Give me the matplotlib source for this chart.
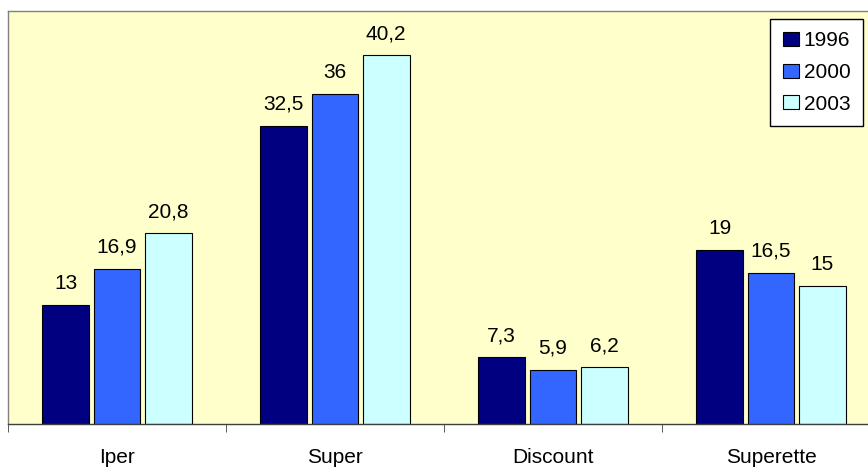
import numpy as np
import matplotlib
matplotlib.use("Agg")
import matplotlib.pyplot as plt
from matplotlib.patches import Rectangle

categories = ["Iper", "Super", "Discount", "Superette"]
years = ["1996", "2000", "2003"]
v1996 = [13, 32.5, 7.3, 19]
v2000 = [16.9, 36, 5.9, 16.5]
v2003 = [20.8, 40.2, 6.2, 15]

colors = ["#000080", "#3366FF", "#CCFFFF"]

plt.rcParams['font.family'] = ['Liberation Sans', 'DejaVu Sans']

fig = plt.figure(figsize=(8.68, 4.70), dpi=100)
ax = fig.add_axes([8 / 868, 46 / 470, 872 / 868, 413 / 470])
ax.set_facecolor("#FFFFCC")

x = np.arange(len(categories))
width = 0.215
step = 0.235

for i, (vals, col) in enumerate(zip([v1996, v2000, v2003], colors)):
    pos = x + (i - 1) * step
    ax.bar(pos, vals, width=width, color=col, edgecolor="black", linewidth=0.8, zorder=2)
    for px, v in zip(pos, vals):
        lbl = f"{v:g}".replace(".", ",")
        ax.text(px, v + 1.3, lbl, ha="center", va="bottom", fontsize=15)

ax.set_xlim(-0.5, len(categories) - 0.5)
ax.set_ylim(0, 45)

# spines
ax.spines["left"].set_color("#808080")
ax.spines["top"].set_color("#808080")
ax.spines["right"].set_color("#808080")
ax.spines["bottom"].set_color("#404040")
for s in ax.spines.values():
    s.set_linewidth(1.0)

ax.set_yticks([])
ax.set_xticks(x)
ax.set_xticklabels(categories, fontsize=15)
ax.tick_params(axis="x", which="major", length=0, pad=17)
ax.set_xticks(np.arange(-0.5, len(categories), 1.0), minor=True)
ax.tick_params(axis="x", which="minor", length=6, color="#404040")

handles = [Rectangle((0, 0), 1, 1, facecolor=c, edgecolor="black", linewidth=0.8) for c in colors]
leg = ax.legend(handles, years, loc="upper right",
                bbox_to_anchor=(863 / 868, 1 - 19 / 470), bbox_transform=fig.transFigure,
                borderaxespad=0, fontsize=15, handlelength=0.77, handleheight=0.67,
                handletextpad=0.25, labelspacing=0.6, borderpad=0.6,
                fancybox=False, framealpha=1, edgecolor="black")
leg.get_frame().set_linewidth(1.0)

fig.savefig("out.png", dpi=100)
